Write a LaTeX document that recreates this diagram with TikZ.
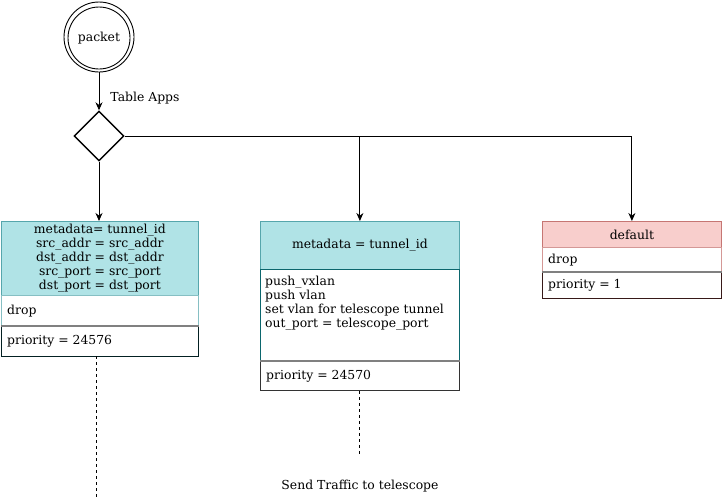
\documentclass[tikz,border=0pt]{standalone}
\usepackage{fontspec}
\setmainfont{DejaVu Serif}
\usetikzlibrary{arrows.meta,shapes.geometric}
\definecolor{tealfill}{HTML}{B0E3E6}
\definecolor{tealline}{HTML}{0E8088}
\definecolor{redfill}{HTML}{F8CECC}
\definecolor{redline}{HTML}{B85450}
\tikzset{
  x=1pt,y=-1pt,
  every node/.style={font=\fontsize{12.4}{14}\selectfont, inner sep=0pt},
  arr/.style={-{Stealth[length=8pt,width=7pt]}, line width=0.9pt},
  ln/.style={line width=0.9pt},
  part/.style={draw, anchor=north west, minimum height=#1, line width=0.8pt},
  hdr1/.style={fill=tealfill, draw=tealline!70},
  hdr3/.style={fill=redfill, draw=redline!80},
  txt/.style={anchor=west, align=left},
}
\begin{document}
\begin{tikzpicture}
\useasboundingbox[fill=white] (0,0) rectangle (722,498);
% start
\node[circle, draw, line width=0.9pt, minimum size=70pt] (pk) at (99,37) {};
\node[circle, draw, line width=0.9pt, minimum size=62pt] (pki) at (99,38) {packet};
\node[diamond, draw, line width=1.4pt, minimum width=50pt, minimum height=50pt] (dec) at (99,136) {};
\draw[arr] (pk.south) -- (dec.north) node[pos=0.68, right=11pt] (lbl) {Table Apps};

% box 1
\node[part=74pt, hdr1, minimum width=197pt, align=center] (h1) at (1,221) {};
\node[align=center] (h1t) at (h1.center) {metadata= tunnel\_id\\src\_addr = src\_addr\\dst\_addr = dst\_addr\\src\_port = src\_port\\dst\_port = dst\_port};
\node[part=31pt, draw=tealline!50, minimum width=197pt] (b1) at (1,295) {};
\node[txt] at ([xshift=6pt]b1.west) {drop};
\node[part=30pt, draw=black!75!tealline, minimum width=197pt] (p1) at (1,326) {};
\draw[gray, line width=1.2pt] (p1.north west) -- (p1.north east);
\node[txt] at ([xshift=6pt]p1.west) {priority = 24576};

% box 2
\node[part=48pt, hdr1, minimum width=199pt] (h2) at (260,221) {};
\node at (h2.center) {metadata = tunnel\_id};
\node[part=92pt, draw=tealline!80!black, minimum width=199pt] (b2) at (260,269) {};
\node[anchor=north west, align=left] at (265,276) {push\_vxlan\\push vlan\\set vlan for telescope tunnel\\out\_port = telescope\_port};
\node[part=29pt, draw=black!80, minimum width=199pt] (p2) at (260,361) {};
\draw[gray, line width=1.2pt] (p2.north west) -- (p2.north east);
\node[txt] at ([xshift=6pt]p2.west) {priority = 24570};

% box 3
\node[part=26pt, hdr3, minimum width=179pt] (h3) at (542,221) {};
\node at (h3.center) {default};
\node[part=25pt, draw=redline!60, minimum width=179pt] (b3) at (542,247) {};
\node[txt] at ([xshift=6pt]b3.west) {drop};
\node[part=26pt, draw=black!70!redline, minimum width=179pt] (p3) at (542,272) {};
\draw[gray, line width=1.2pt] (p3.north west) -- (p3.north east);
\node[txt] at ([xshift=6pt]p3.west) {priority = 1};

% connectors
\draw[arr] (dec.south) -- (dec.south |- h1.north);
\draw[arr] (dec.east) -| (h3.north);
\coordinate (j) at (h2.north |- dec.east);
\draw[arr] (j) -- (h2.north);

% dashed
\coordinate (e1s) at (96,356);
\coordinate (e1) at (96,498);
\draw[dashed, ln] (e1s) -- (e1);
\node (send) at (360,486) {Send Traffic to telescope};
\coordinate (e2) at (p2.south |- 0,456);
\draw[dashed, ln] (p2.south) -- (e2);
\end{tikzpicture}
\end{document}
